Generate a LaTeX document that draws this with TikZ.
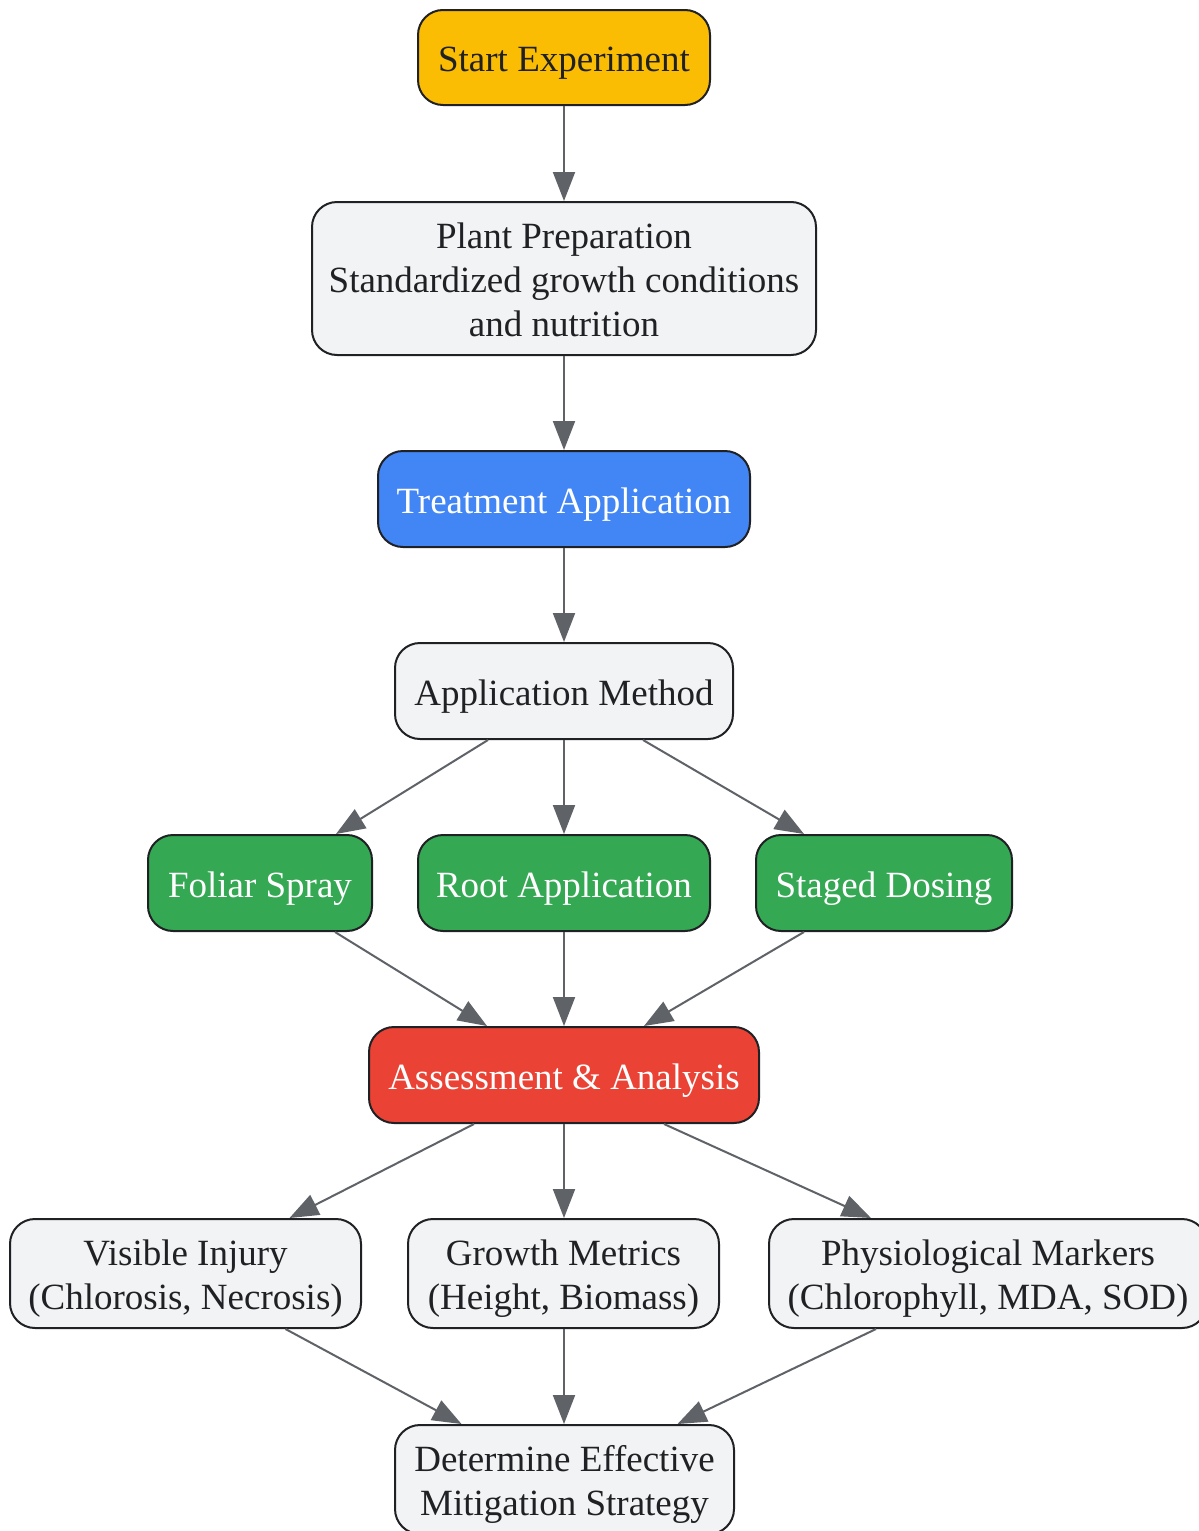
\documentclass[tikz,border=0pt]{standalone}
\usepackage{fontspec}
\setmainfont{Liberation Serif}
\usetikzlibrary{arrows.meta,calc}
\definecolor{cstart}{HTML}{FBBC04}
\definecolor{cblue}{HTML}{4285F4}
\definecolor{cgreen}{HTML}{34A853}
\definecolor{cred}{HTML}{EA4335}
\definecolor{cgrey}{HTML}{F1F3F4}
\definecolor{cline}{HTML}{202124}
\definecolor{carrow}{HTML}{5F6368}
\begin{document}
\begin{tikzpicture}[x=1pt,y=-1pt,
  box/.style={draw=cline, line width=2pt, rounded corners=25pt, inner sep=0pt, fill=cgrey},
  txt/.style={inner sep=0pt, align=center, text=cline, font=\fontsize{37}{44}\selectfont},
  wtxt/.style={txt, text=white},
  conn/.style={draw=carrow, line width=2pt, -{Triangle[length=29pt,width=22pt]}}]
\useasboundingbox (0,0) rectangle (1199,1531);
\clip (0,0) rectangle (1199,1531);
\fill[white] (0,0) rectangle (1199,1531);
% boxes
\node[box, fill=cstart, minimum width=292pt, minimum height=95pt] (start) at (564,57.5) {};
\node[box, minimum width=504pt, minimum height=153pt] (prep) at (564,278.5) {};
\node[box, fill=cblue, minimum width=372pt, minimum height=96pt] (treat) at (564,499) {};
\node[box, minimum width=338pt, minimum height=96pt] (am) at (564,691) {};
\node[box, fill=cgreen, minimum width=224pt, minimum height=96pt] (fol) at (260,883) {};
\node[box, fill=cgreen, minimum width=292pt, minimum height=96pt] (root) at (564,883) {};
\node[box, fill=cgreen, minimum width=256pt, minimum height=96pt] (stg) at (884,883) {};
\node[box, fill=cred, minimum width=390pt, minimum height=96pt] (ass) at (564,1075) {};
\node[box, minimum width=351pt, minimum height=109pt] (vi) at (185.5,1273.5) {};
\node[box, minimum width=311pt, minimum height=109pt] (gm) at (563.5,1273.5) {};
\node[box, minimum width=438pt, minimum height=109pt] (pm) at (988,1273.5) {};
\node[box, minimum width=339pt, minimum height=109pt] (det) at (564.5,1479.5) {};
% texts
\node[txt] (startT) at ($(start.center)+(0,5.5)$) {Start Experiment};
\node[txt] (prepT) at ($(prep.center)+(0,1.5)$) {Plant Preparation\\Standardized growth conditions\\and nutrition};
\node[wtxt] (treatT) at ($(treat.center)+(0,5.5)$) {Treatment Application};
\node[txt] (amT) at ($(am.center)+(0,5.5)$) {Application Method};
\node[wtxt] (folT) at ($(fol.center)+(0,5.5)$) {Foliar Spray};
\node[wtxt] (rootT) at ($(root.center)+(0,5.5)$) {Root Application};
\node[wtxt] (stgT) at ($(stg.center)+(0,5.5)$) {Staged Dosing};
\node[wtxt] (assT) at ($(ass.center)+(0,5.5)$) {Assessment \& Analysis};
\node[txt] (viT) at ($(vi.center)+(0,5)$) {Visible Injury\\(Chlorosis, Necrosis)};
\node[txt] (gmT) at ($(gm.center)+(0,5)$) {Growth Metrics\\(Height, Biomass)};
\node[txt] (pmT) at ($(pm.center)+(0,5)$) {Physiological Markers\\(Chlorophyll, MDA, SOD)};
\node[txt] (detT) at ($(det.center)+(0,5)$) {Determine Effective\\Mitigation Strategy};
% connectors
\draw[conn] (start.south) -- (prep.north);
\draw[conn] (prep.south) -- (treat.north);
\draw[conn] (treat.south) -- (am.north);
\draw[conn] ($(am.south)+(-76,0)$) -- ($(fol.north)+(76,0)$);
\draw[conn] (am.south) -- (root.north);
\draw[conn] ($(am.south)+(79,0)$) -- ($(stg.north)+(-80,0)$);
\draw[conn] ($(fol.south)+(75,0)$) -- ($(ass.north)+(-77,0)$);
\draw[conn] (root.south) -- (ass.north);
\draw[conn] ($(stg.south)+(-80,0)$) -- ($(ass.north)+(80,0)$);
\draw[conn] ($(ass.south)+(-90,0)$) -- ($(vi.north)+(104,0)$);
\draw[conn] (ass.south) -- ($(gm.north)+(0.5,0)$);
\draw[conn] ($(ass.south)+(100,0)$) -- ($(pm.north)+(-117,0)$);
\draw[conn] ($(vi.south)+(100,0)$) -- ($(det.north)+(-103,0)$);
\draw[conn] ($(gm.south)+(0.5,0)$) -- ($(det.north)+(-0.5,0)$);
\draw[conn] ($(pm.south)+(-112,0)$) -- ($(det.north)+(113,0)$);
\end{tikzpicture}
\end{document}
